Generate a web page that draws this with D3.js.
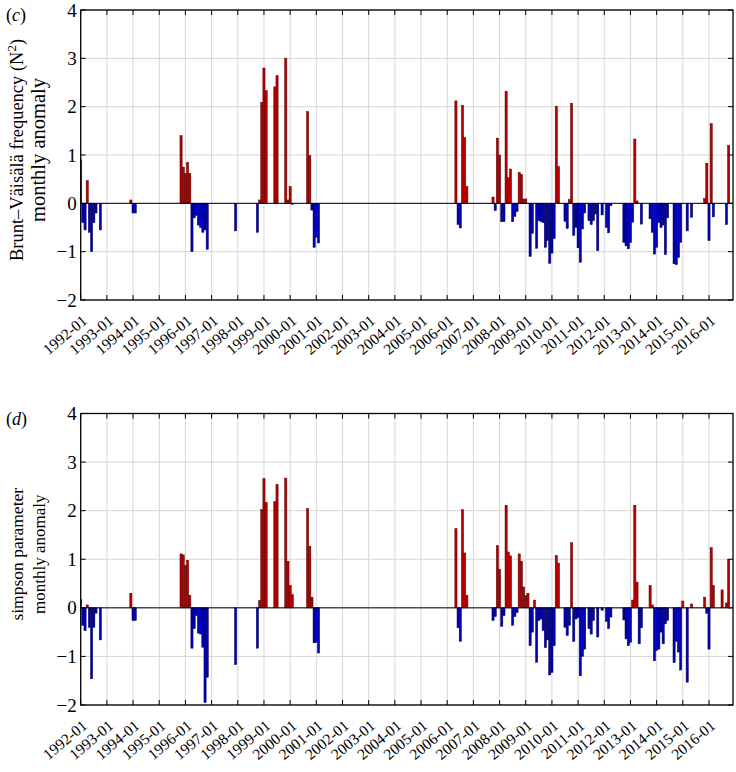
<!DOCTYPE html>
<html><head><meta charset="utf-8">
<script src="https://cdn.jsdelivr.net/npm/d3@7"></script>
<style>body{margin:0;background:#fff}svg{display:block}</style>
</head><body><svg id="c" width="736" height="772" font-family="'Liberation Serif', 'Times New Roman', Times, serif"></svg>
<script>
// ---- data ----
const startYear = 1992, nMonths = 300;
const tickLabels = ["1992-01","1993-01","1994-01","1995-01","1996-01","1997-01","1998-01","1999-01","2000-01","2001-01","2002-01","2003-01","2004-01","2005-01","2006-01","2007-01","2008-01","2009-01","2010-01","2011-01","2012-01","2013-01","2014-01","2015-01","2016-01"];
const yTicks = [-2,-1,0,1,2,3,4];

const n2Dates = ["1992-01","1992-02","1992-03","1992-04","1992-05","1992-06","1992-07","1992-08","1992-10","1993-12","1994-01","1994-02","1995-11","1995-12","1996-01","1996-02","1996-03","1996-04","1996-05","1996-06","1996-07","1996-08","1996-09","1996-10","1996-11","1997-12","1998-10","1998-11","1998-12","1999-01","1999-02","1999-06","1999-07","1999-11","1999-12","2000-01","2000-02","2000-09","2000-10","2000-11","2000-12","2001-01","2001-02","2006-05","2006-06","2006-07","2006-08","2006-09","2006-10","2007-10","2007-11","2007-12","2008-01","2008-02","2008-03","2008-04","2008-05","2008-06","2008-07","2008-08","2008-09","2008-10","2008-11","2008-12","2009-01","2009-03","2009-04","2009-06","2009-07","2009-08","2009-09","2009-10","2009-11","2009-12","2010-01","2010-02","2010-03","2010-04","2010-07","2010-08","2010-09","2010-10","2010-11","2010-12","2011-01","2011-02","2011-03","2011-04","2011-06","2011-07","2011-08","2011-09","2011-10","2011-12","2012-02","2012-03","2012-04","2012-10","2012-11","2012-12","2013-01","2013-02","2013-03","2013-04","2013-06","2013-10","2013-11","2013-12","2014-01","2014-02","2014-03","2014-04","2014-05","2014-06","2014-09","2014-10","2014-11","2014-12","2015-03","2015-05","2015-11","2015-12","2016-01","2016-02","2016-03","2016-09","2016-10"];
const n2Values = [0.9,-0.4,-0.55,0.47,-0.6,-1.0,-0.4,-0.2,-0.55,0.07,-0.2,-0.2,1.4,0.75,0.62,0.85,0.62,-1.0,-0.3,-0.25,-0.45,-0.5,-0.6,-0.55,-0.95,-0.57,-0.6,0.07,2.09,2.8,2.33,2.41,2.64,3.0,0.07,0.35,-0.02,1.9,0.99,-0.14,-0.91,-0.7,-0.82,2.12,-0.44,-0.51,2.03,1.36,0.35,0.13,-0.15,1.35,1.0,-0.38,-0.38,2.32,0.53,0.71,-0.38,-0.27,-0.17,0.64,0.6,0.09,0.09,-1.1,-0.62,-0.93,-0.36,-0.38,-0.4,-0.91,-0.77,-1.24,-1.03,-0.73,2.01,0.76,-0.37,-0.52,0.08,2.07,-0.66,-0.5,-0.92,-1.22,-0.53,-0.2,-0.36,-0.44,-0.36,-0.22,-0.98,-0.24,-0.5,-0.61,-0.05,-0.81,-0.88,-0.94,-0.81,-0.39,1.33,0.05,-0.43,-0.32,-0.6,-1.05,-0.91,-0.4,-0.5,-0.45,-1.06,-0.3,-1.25,-1.27,-1.12,-0.81,-0.57,-0.29,0.1,0.83,-0.77,1.65,-0.28,-0.44,1.2];

const spDates = ["1992-01","1992-02","1992-03","1992-04","1992-05","1992-06","1992-07","1992-08","1992-10","1993-12","1994-01","1994-02","1995-11","1995-12","1996-01","1996-02","1996-03","1996-04","1996-05","1996-06","1996-07","1996-08","1996-09","1996-10","1996-11","1997-12","1998-10","1998-11","1998-12","1999-01","1999-02","1999-06","1999-07","1999-11","1999-12","2000-01","2000-02","2000-09","2000-10","2000-11","2000-12","2001-01","2001-02","2006-05","2006-06","2006-07","2006-08","2006-09","2006-10","2007-10","2007-11","2007-12","2008-01","2008-02","2008-03","2008-04","2008-05","2008-06","2008-07","2008-08","2008-09","2008-10","2008-11","2008-12","2009-01","2009-02","2009-03","2009-04","2009-05","2009-06","2009-07","2009-08","2009-09","2009-10","2009-11","2009-12","2010-01","2010-02","2010-03","2010-04","2010-07","2010-08","2010-09","2010-10","2010-11","2010-12","2011-01","2011-02","2011-03","2011-04","2011-06","2011-07","2011-08","2011-10","2011-12","2012-02","2012-03","2012-04","2012-10","2012-11","2012-12","2013-01","2013-02","2013-03","2013-04","2013-05","2013-06","2013-10","2013-11","2013-12","2014-01","2014-02","2014-03","2014-04","2014-05","2014-06","2014-09","2014-10","2014-11","2014-12","2015-01","2015-03","2015-05","2015-11","2015-12","2016-01","2016-02","2016-03","2016-07","2016-09","2016-10"];
const spValues = [0.17,-0.36,-0.47,0.06,-0.4,-1.46,-0.4,-0.11,-0.66,0.3,-0.26,-0.26,1.11,1.09,0.87,0.98,0.26,-0.83,-0.43,-0.16,-0.52,-0.54,-0.81,-1.95,-1.43,-1.17,-0.83,0.15,2.02,2.66,2.17,2.19,2.54,2.67,0.96,0.46,0.27,2.05,1.27,0.22,-0.72,-0.71,-0.93,1.63,-0.41,-0.69,2.02,1.13,0.26,-0.26,-0.18,1.28,0.79,-0.38,-0.16,2.11,1.15,1.07,-0.36,-0.18,-0.1,1.11,0.96,0.43,0.25,0.3,-0.78,-0.5,0.16,-1.12,-0.26,-0.23,-0.47,-0.82,-0.66,-1.38,-1.33,-0.78,1.08,0.92,-0.4,-0.57,-0.36,1.34,-0.69,-0.23,-0.2,-1.4,-1.0,-0.85,-0.43,-0.54,-0.26,-0.6,-0.05,-0.28,-0.43,-0.19,-0.25,-0.64,-0.78,-0.71,0.16,2.11,0.53,-0.74,-0.41,0.46,0.06,-1.09,-0.88,-0.85,-0.5,-0.74,-0.33,-0.26,-1.13,-0.69,-0.91,-1.28,0.14,-1.53,0.08,0.22,-0.11,-0.85,1.24,0.46,0.37,0.1,0.99];

// ---- drawing ----
const svg = d3.select("#c");
const monthIndex = s => (+s.slice(0,4) - startYear) * 12 + (+s.slice(5,7) - 1);
const x = d3.scaleLinear().domain([0, nMonths - 1]).range([80.7, 733]);
const bw = x(1) - x(0);

function panel(id, top, bottom, letter, titleLines, dates, values) {
  const y = d3.scaleLinear().domain([-2, 4]).range([bottom, top]);
  const L = x.range()[0], R = x.range()[1];
  const g = svg.append("g");
  g.append("clipPath").attr("id", "clip" + id).append("rect")
    .attr("x", L).attr("y", top).attr("width", R - L).attr("height", bottom - top);
  const tickIdx = tickLabels.map(monthIndex);
  // grid
  g.append("g").selectAll("line.vg").data(tickIdx).join("line")
    .attr("x1", d => x(d)).attr("x2", d => x(d)).attr("y1", top).attr("y2", bottom)
    .attr("stroke", "#d6d6d6").attr("stroke-width", 1);
  g.append("g").selectAll("line.hg").data(yTicks).join("line")
    .attr("x1", L).attr("x2", R).attr("y1", d => y(d)).attr("y2", d => y(d))
    .attr("stroke", "#d6d6d6").attr("stroke-width", 1);
  // bars
  const data = dates.map((d, i) => ({m: monthIndex(d), v: values[i]}));
  g.append("g").attr("clip-path", `url(#clip${id})`).selectAll("rect").data(data).join("rect")
    .attr("x", d => x(d.m) - bw / 2).attr("width", bw)
    .attr("y", d => y(Math.max(0, d.v))).attr("height", d => Math.abs(y(d.v) - y(0)))
    .attr("fill", d => d.v >= 0 ? "#b40000" : "#0000b4")
    .attr("stroke", d => d.v >= 0 ? "#600000" : "#000060").attr("stroke-width", 0.5);
  // zero line
  g.append("line").attr("x1", L).attr("x2", R).attr("y1", y(0)).attr("y2", y(0))
    .attr("stroke", "#000").attr("stroke-width", 1);
  // ticks inward (all four sides)
  const tl = 5;
  g.append("g").selectAll("line").data(tickIdx).join("line")
    .attr("x1", d => x(d)).attr("x2", d => x(d)).attr("y1", bottom).attr("y2", bottom - tl).attr("stroke", "#000");
  g.append("g").selectAll("line").data(tickIdx).join("line")
    .attr("x1", d => x(d)).attr("x2", d => x(d)).attr("y1", top).attr("y2", top + tl).attr("stroke", "#000");
  g.append("g").selectAll("line").data(yTicks).join("line")
    .attr("x1", L).attr("x2", L + tl).attr("y1", d => y(d)).attr("y2", d => y(d)).attr("stroke", "#000");
  g.append("g").selectAll("line").data(yTicks).join("line")
    .attr("x1", R).attr("x2", R - tl).attr("y1", d => y(d)).attr("y2", d => y(d)).attr("stroke", "#000");
  // frame
  g.append("rect").attr("x", L).attr("y", top).attr("width", R - L).attr("height", bottom - top)
    .attr("fill", "none").attr("stroke", "#000").attr("stroke-width", 1.3);
  // y tick labels
  g.append("g").selectAll("text").data(yTicks).join("text")
    .attr("x", L - 4).attr("y", d => y(d)).attr("dy", "0.35em").attr("text-anchor", "end")
    .attr("font-size", 19).text(d => d < 0 ? "\u2212" + Math.abs(d) : d);
  // x tick labels
  g.append("g").selectAll("text").data(tickLabels).join("text")
    .attr("transform", d => `translate(${x(monthIndex(d)) + 4},${bottom + 18}) rotate(-40)`)
    .attr("text-anchor", "end").attr("dy", "0.35em").attr("font-size", 15.5).text(d => d);
  // panel letter
  const pl = g.append("text").attr("x", 6).attr("y", top + 11).attr("font-size", 18);
  pl.append("tspan").text("(");
  pl.append("tspan").attr("font-style", "italic").text(letter);
  pl.append("tspan").text(")");
  // y title
  const cy = (top + bottom) / 2 - 5;
  titleLines.forEach((t, k) => {
    const tx = g.append("text").attr("transform", `translate(${k === 0 ? 23 : 45},${cy}) rotate(-90)`)
      .attr("text-anchor", "middle").attr("font-size", t.size);
    t.parts.forEach(p => {
      const ts = tx.append("tspan").text(p.t);
      if (p.sup) ts.attr("baseline-shift", "super").attr("font-size", t.size * 0.7);
    });
  });
}

panel("c", 10, 300, "c",
  [{size: 18.5, parts: [{t: "Brunt\u2013V\u00e4is\u00e4l\u00e4 frequency (N"}, {t: "2", sup: true}, {t: ")"}]},
   {size: 20.5, parts: [{t: "monthly anomaly"}]}], n2Dates, n2Values);
panel("d", 413.5, 705, "d",
  [{size: 17.5, parts: [{t: "simpson parameter"}]},
   {size: 17, parts: [{t: "monthly anomaly"}]}], spDates, spValues);
</script></body></html>
